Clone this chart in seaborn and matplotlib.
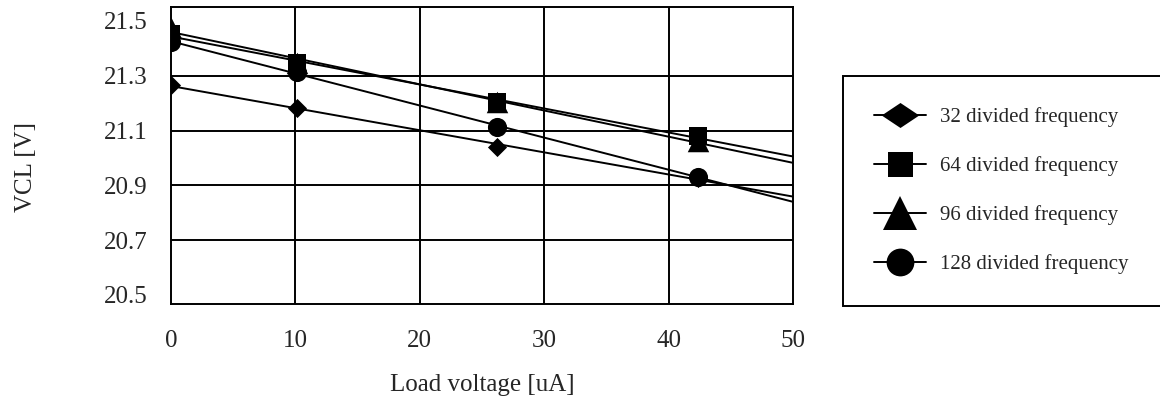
import pandas as pd
import matplotlib
matplotlib.use("Agg")
import matplotlib.pyplot as plt
from matplotlib.lines import Line2D
import seaborn as sns

sns.set_theme(style="white")
plt.rcParams["font.family"] = ["Liberation Serif", "DejaVu Serif"]

# ===============================
# Data
# ===============================
load_ua = [0, 10.1, 26.2, 42.4]
vcl_32 = [21.266, 21.182, 21.040, 20.927]
vcl_64 = [21.453, 21.347, 21.204, 21.080]
vcl_96 = [21.474, 21.347, 21.204, 21.062]
vcl_128 = [21.423, 21.314, 21.113, 20.931]

series_labels = ["32 divided frequency", "64 divided frequency",
                 "96 divided frequency", "128 divided frequency"]
x_ticks = [0, 10, 20, 30, 40, 50]
y_ticks = [20.5, 20.7, 20.9, 21.1, 21.3, 21.5]
x_grid = [10, 20, 30, 40]
y_grid = [20.7, 20.9, 21.1, 21.3]

# ===============================
# Figure
# ===============================
W, H = 1160, 401
fig = plt.figure(figsize=(W / 100, H / 100), dpi=100)
ax = fig.add_axes([171 / W, 1 - 304 / H, (793 - 171) / W, (304 - 7) / H])
ax.set_xlim(0, 50)
ax.set_ylim(20.467, 21.551)

markers = ["D", "s", "^", "o"]
sizes = [95, 150, 240, 190]
for vals, mk, sz in zip([vcl_32, vcl_64, vcl_96, vcl_128], markers, sizes):
    df = pd.DataFrame({"load": load_ua, "vcl": vals})
    sns.regplot(
        data=df, x="load", y="vcl", ax=ax, ci=None, truncate=False,
        marker=mk, color="black",
        scatter_kws={"s": sz, "alpha": 1, "zorder": 3, "linewidths": 0},
        line_kws={"lw": 1.4, "zorder": 2},
    )

# grid
for gx in x_grid:
    ax.axvline(gx, color="black", lw=1.4, zorder=1)
for gy in y_grid:
    ax.axhline(gy, color="black", lw=1.4, zorder=1)

ax.set_xlim(0, 50)
ax.set_ylim(20.467, 21.551)
ax.set_xticks(x_ticks)
ax.set_yticks(y_ticks)
ax.set_yticklabels([f"{v:.1f}" for v in y_ticks])
ax.grid(False)
ax.tick_params(which="both", length=0)
ax.tick_params(axis="x", labelsize=18, pad=19)
ax.tick_params(axis="y", labelsize=18, pad=17)
for s in ax.spines.values():
    s.set_color("black")
    s.set_linewidth(1.4)

ax.set_xlabel("Load voltage [uA]", fontsize=18)
ax.set_ylabel("VCL [V]", fontsize=18)
ax.xaxis.set_label_coords(0.5, -0.235)
ax.yaxis.set_label_coords(-0.215, 0.46)

# legend: marker with a short line through it
flat_diamond = [(-1.5, 0), (0, 1), (1.5, 0), (0, -1), (-1.5, 0)]
leg_markers = [flat_diamond, "s", "^", "o"]
leg_sizes = [27, 18, 25, 20]
handles = [
    Line2D([], [], color="black", lw=1.4, marker=m, markersize=ms,
           markeredgewidth=0, label=lab)
    for m, ms, lab in zip(leg_markers, leg_sizes, series_labels)
]
leg = fig.legend(
    handles=handles, loc="upper left", mode="expand",
    bbox_to_anchor=(843 / W, 0, 1 - 843 / W + 0.01, 1 - 76 / H),
    bbox_transform=fig.transFigure,
    fontsize=15, frameon=True, fancybox=False, framealpha=1,
    borderpad=1.5, labelspacing=1.4, handlelength=2.5, handletextpad=0.67,
    borderaxespad=0,
)
leg.get_frame().set_edgecolor("black")
leg.get_frame().set_linewidth(1.4)

fig.savefig("out.png", dpi=100)
